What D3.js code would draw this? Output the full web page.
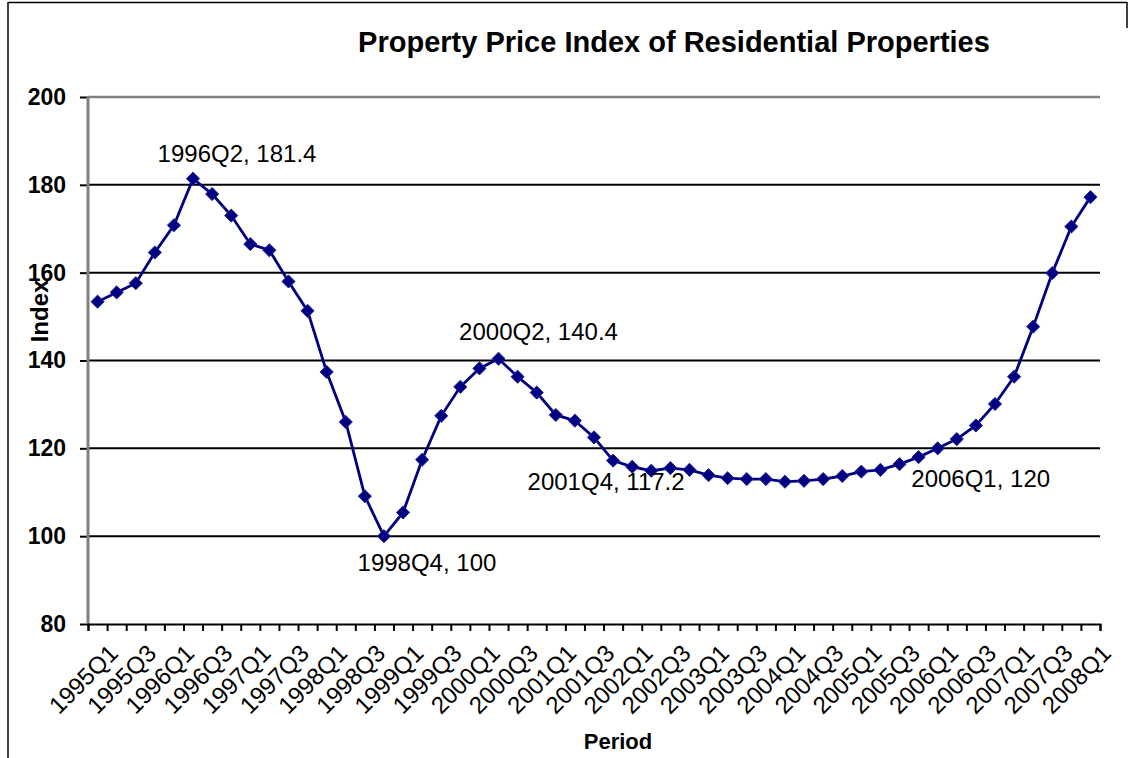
<!DOCTYPE html>
<html>
<head>
<meta charset="utf-8">
<script src="https://cdn.jsdelivr.net/npm/d3@7"></script>
<style>
  body { margin: 0; background: #fff; }
  text { font-family: "Liberation Sans", Arial, sans-serif; }
</style>
</head>
<body>
<div id="chart"></div>
<script>
// quarters 1995Q1 .. 2008Q1
const periods = [];
for (let yr = 1995; yr <= 2008; yr++) {
    for (let q = 1; q <= 4; q++) {
        if (yr === 2008 && q > 1) break;
        periods.push(yr + "Q" + q);
    }
}

const index = [
    153.4, 155.5, 157.6, 164.6, 170.8, 181.4, 177.9, 173.0, 166.5, 165.1,
    158.0, 151.3, 137.4, 126.0, 109.1, 100.0, 105.4, 117.4, 127.4, 134.0,
    138.2, 140.4, 136.3, 132.7, 127.6, 126.3, 122.5, 117.2, 115.8, 114.9,
    115.5, 115.1, 113.9, 113.2, 113.0, 113.0, 112.4, 112.6, 113.0, 113.7,
    114.7, 115.1, 116.4, 118.0, 120.0, 122.1, 125.2, 130.1, 136.3, 147.7,
    159.9, 170.5, 177.2
];

const yTicks = [80, 100, 120, 140, 160, 180, 200];

// labelled points
const callouts = ["1996Q2", "1998Q4", "2000Q2", "2001Q4", "2006Q1"];

const title = "Property Price Index of Residential Properties";

const width = 1134, height = 758;
const margin = { top: 97, left: 88, right: 34, bottom: 134 };
const innerW = width - margin.left - margin.right;
const innerH = height - margin.top - margin.bottom;

const svg = d3.select("#chart").append("svg")
    .attr("width", width)
    .attr("height", height);

// outer frame
svg.append("line").attr("x1", 8).attr("x2", 1127).attr("y1", 2.5).attr("y2", 2.5)
    .attr("stroke", "#000").attr("stroke-width", 1.5);
svg.append("line").attr("x1", 8).attr("x2", 8).attr("y1", 2).attr("y2", height)
    .attr("stroke", "#000").attr("stroke-width", 1.5);
svg.append("line").attr("x1", 1127).attr("x2", 1127).attr("y1", 2).attr("y2", 28)
    .attr("stroke", "#000").attr("stroke-width", 1.5);

svg.append("text")
    .attr("x", 674)
    .attr("y", 52)
    .attr("text-anchor", "middle")
    .style("font-size", "29px")
    .style("font-weight", "bold")
    .text(title);

const g = svg.append("g").attr("transform", `translate(${margin.left},${margin.top})`);

const x = d3.scaleBand().domain(periods).range([0, innerW]).padding(0);
const xEdge = d3.scaleLinear().domain([0, periods.length]).range([0, innerW]);
const y = d3.scaleLinear().domain([80, 200]).range([innerH, 0]);
const cx = d => x(d) + x.bandwidth() / 2;

// gridlines
g.selectAll(".grid")
    .data(yTicks.filter(t => t > 80 && t < 200))
    .join("line")
    .attr("class", "grid")
    .attr("x1", 0).attr("x2", innerW)
    .attr("y1", d => y(d)).attr("y2", d => y(d))
    .attr("stroke", "#000").attr("stroke-width", 2);

// top border of plot area
g.append("line").attr("x1", 0).attr("x2", innerW).attr("y1", 0).attr("y2", 0)
    .attr("stroke", "#808080").attr("stroke-width", 2.5);

// y axis
const yAxis = g.append("g")
    .call(d3.axisLeft(y).tickValues(yTicks).tickSize(8).tickPadding(14));
yAxis.select(".domain").remove();
yAxis.selectAll(".tick line").attr("stroke", "#000").attr("stroke-width", 2);
yAxis.selectAll(".tick text")
    .style("font-size", "23px")
    .style("font-weight", "bold")
    .attr("fill", "#000");
g.append("line").attr("x1", 0).attr("x2", 0).attr("y1", 0).attr("y2", innerH)
    .attr("stroke", "#808080").attr("stroke-width", 3);

// x axis ticks at category edges
const xAxis = g.append("g")
    .attr("transform", `translate(0,${innerH})`)
    .call(d3.axisBottom(xEdge).tickValues(d3.range(periods.length + 1)).tickSize(7).tickFormat(""));
xAxis.select(".domain").attr("stroke", "#000").attr("stroke-width", 2);
xAxis.selectAll(".tick line").attr("stroke", "#000").attr("stroke-width", 2);

g.append("g")
    .selectAll("text")
    .data(periods.filter((p, i) => i % 2 === 0))
    .join("text")
    .attr("transform", d => `translate(${cx(d) + 10},${innerH + 19}) rotate(-45)`)
    .attr("text-anchor", "end")
    .attr("dy", "0.7em")
    .style("font-size", "24px")
    .text(d => d);

// axis titles
svg.append("text")
    .attr("transform", `translate(48,${311}) rotate(-90)`)
    .attr("text-anchor", "middle")
    .style("font-size", "24px")
    .style("font-weight", "bold")
    .text("Index");

svg.append("text")
    .attr("x", 618)
    .attr("y", 749)
    .attr("text-anchor", "middle")
    .style("font-size", "22px")
    .style("font-weight", "bold")
    .text("Period");

// the series
const line = d3.line()
    .x((d, i) => cx(periods[i]))
    .y(d => y(d));

g.append("path")
    .datum(index)
    .attr("d", line)
    .attr("fill", "none")
    .attr("stroke", "#000080")
    .attr("stroke-width", 2.8);

g.selectAll(".pt")
    .data(index)
    .join("path")
    .attr("class", "pt")
    .attr("d", d3.symbol().type(d3.symbolDiamond2).size(110))
    .attr("transform", (d, i) => `translate(${cx(periods[i])},${y(d)})`)
    .attr("fill", "#000080")
    .attr("stroke", "#22229a")
    .attr("stroke-width", 1);

// data labels
const labelOffset = {
    "1996Q2": [44, -17],
    "1998Q4": [43, 35],
    "2000Q2": [40, -19],
    "2001Q4": [-7, 29],
    "2006Q1": [43, 39]
};

g.selectAll(".callout")
    .data(callouts)
    .join("text")
    .attr("class", "callout")
    .attr("x", d => cx(d) + labelOffset[d][0])
    .attr("y", d => y(index[periods.indexOf(d)]) + labelOffset[d][1])
    .attr("text-anchor", "middle")
    .style("font-size", "24px")
    .text(d => d + ", " + index[periods.indexOf(d)]);
</script>
</body>
</html>
